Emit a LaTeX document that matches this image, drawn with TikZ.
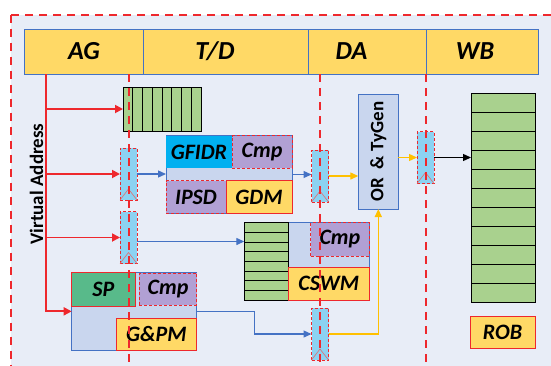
\documentclass[tikz,border=0pt]{standalone}
\usepackage{fontspec}
\setmainfont{Carlito}
\usetikzlibrary{positioning, arrows.meta}
\definecolor{bgblue}{RGB}{232,237,247}
\definecolor{hdrgold}{RGB}{255,217,102}
\definecolor{edgeblue}{RGB}{68,114,196}
\definecolor{grpfill}{RGB}{201,214,238}
\definecolor{stagered}{RGB}{238,40,45}
\definecolor{bufgreen}{RGB}{169,209,142}
\definecolor{latchcyan}{RGB}{140,210,242}
\definecolor{gfcyan}{RGB}{0,176,240}
\definecolor{cmppurple}{RGB}{177,160,212}
\definecolor{spgreen}{RGB}{88,186,138}
\definecolor{arrowgold}{RGB}{255,192,0}
\definecolor{clkred}{RGB}{224,110,110}

\begin{document}
\begin{tikzpicture}[x=1pt, y=-1pt,
  hdr/.style={draw=edgeblue, line width=0.9pt, fill=hdrgold, outer sep=0pt, minimum height=45pt, font=\fontsize{26}{26}\selectfont\bfseries\itshape},
  part/.style={anchor=north west, outer sep=0pt, inner sep=0pt, font=\fontsize{22}{22}\selectfont\bfseries\itshape},
  grp/.style={part, draw=edgeblue, line width=0.9pt, fill=grpfill},
  gold/.style={part, draw=stagered, line width=1pt, fill=hdrgold},
  cmp/.style={part, draw=stagered, densely dashed, line width=1pt, fill=cmppurple},
  buf/.style={part, draw=black, line width=1pt, fill=bufgreen},
  latch/.style={part, draw=stagered, densely dashed, line width=1pt, fill=latchcyan, minimum width=17pt, minimum height=52pt},
  stage/.style={stagered, line width=2pt, dash pattern=on 8pt off 6pt},
  va/.style={stagered, line width=1.8pt, -{Triangle[length=8pt, width=8pt]}},
  blu/.style={edgeblue, line width=1.3pt, -{Triangle[length=8pt, width=7pt]}},
  ylw/.style={arrowgold, line width=1.3pt, -{Triangle[length=8pt, width=7pt]}},
  blk/.style={black, line width=1.3pt, -{Triangle[length=8pt, width=7pt]}},
  clk/.style={clkred, line width=0.6pt}
]
  \useasboundingbox (0,0) rectangle (551,365);
  \clip (0,0) rectangle (551,365);
  \draw[stage, fill=bgblue] (10.5,14.5) rectangle (570,390);

  % pipeline stages
  \node[hdr, anchor=north west, minimum width=119pt] (ag) at (24.5,29) {AG};
  \node[hdr, minimum width=165pt, right=0pt of ag] (td) {T/D\hspace*{22pt}};
  \node[hdr, minimum width=118pt, right=0pt of td] (da) {DA\hspace*{32pt}};
  \node[hdr, minimum width=112pt, right=0pt of da] (wb) {WB\hspace*{15pt}};

  % queue at AG
  \node[buf, minimum width=78pt, minimum height=44pt] (agbuf) at (123,87) {};
  \foreach \i in {1,...,7}
    \draw[line width=0.7pt] ([xshift=\i*9.75pt]agbuf.north west) -- ([xshift=\i*9.75pt]agbuf.south west);

  % latches
  \node[latch] (l1) at (120,148) {};
  \node[latch] (l2) at (120,211.5) {};
  \node[latch] (l3) at (311.5,150) {};
  \node[latch] (l4) at (417,131.5) {};
  \node[latch] (l5) at (311.5,308) {};

  % T/D blocks
  \node[grp, minimum width=126pt, minimum height=77.6pt] (gfgrp) at (166,135.7) {};
  \node[part, fill=gfcyan, minimum width=66pt, minimum height=32.6pt] (gfidr) at (166,135.7) {GFIDR};
  \node[cmp, minimum width=60pt, minimum height=32.6pt, right=0pt of gfidr] (cmpA) {Cmp};
  \node[cmp, minimum width=60pt, minimum height=32.6pt] (ipsd) at (166,180.7) {IPSD};
  \node[gold, minimum width=66pt, minimum height=32.6pt, right=0pt of ipsd] (gdm) {GDM};

  \node[grp, minimum width=124.7pt, minimum height=77.3pt] (cswgrp) at (244.3,222.7) {};
  \node[buf, minimum width=44pt, minimum height=77.3pt] (cswq) at (244.3,222.7) {};
  \foreach \i in {1,...,7}
    \draw[line width=0.8pt] ([yshift=-\i*9.66pt]cswq.north west) -- ([yshift=-\i*9.66pt]cswq.north east);
  \node[cmp, minimum width=58.3pt, minimum height=33.3pt] (cmpC) at (310.7,222.7) {Cmp};
  \node[gold, minimum width=80.7pt, minimum height=32.3pt] (cswm) at (288.3,267.7) {CSWM};

  \node[grp, minimum width=125pt, minimum height=77.3pt] (spgrp) at (71.7,272.7) {};
  \node[part, draw=stagered, line width=1pt, fill=spgreen, minimum width=63.3pt, minimum height=33.3pt] (sp) at (71.7,272.7) {SP};
  \node[cmp, minimum width=57.4pt, minimum height=31.7pt] (cmpS) at (139.3,273.3) {Cmp};
  \node[gold, minimum width=80.7pt, minimum height=31.7pt] (gpm) at (116,318.3) {G\&PM};

  % DA and WB
  \node[grp, minimum width=40pt, minimum height=115pt] (ortg) at (358.3,94) {};
  \node[rotate=90, font=\fontsize{19}{19}\selectfont\bfseries] (ortgtxt) at (ortg.center) {OR\ \ \& TyGen};
  \node[buf, minimum width=64.7pt, minimum height=209pt] (robq) at (471,93.3) {};
  \foreach \i in {1,...,10}
    \draw[line width=0.9pt] ([yshift=-\i*19pt]robq.north west) -- ([yshift=-\i*19pt]robq.north east);
  \node[gold, minimum width=65pt, minimum height=32.3pt] (rob) at (470,316) {ROB};

  \node[rotate=90, font=\fontsize{19}{19}\selectfont\bfseries] (vatxt) at (36.5,184) {Virtual Address};

  % connectors
  \coordinate (va) at (46,74);
  \draw[va] (va) |- (spgrp.west);
  \draw[va] (va |- agbuf.west) -- (agbuf.west);
  \draw[va] (va |- l1.west) -- (l1.west);
  \draw[va] (va |- l2.west) -- (l2.west);
  \draw[blu] (l1.east) -- (l1.east -| gfgrp.west);
  \draw[blu] (gfgrp.east) -- (gfgrp.east -| l3.west);
  \draw[ylw] (l3.east) -- (l3.east -| ortg.west);
  \draw[ylw] (l4.west -| ortg.east) -- (l4.west);
  \draw[blk] (l4.east) -- (l4.east -| robq.west);
  \draw[blu] ([yshift=-4pt]l2.east) -- ([yshift=-4pt]l2.east -| cswq.west);
  \draw[blu] (spgrp.east) -- ++(58,0) |- (l5.west);
  \draw[ylw] (l5.east) -| (ortg.south);

  \foreach \lt in {l1,l2,l3,l4,l5}
    \draw[clk] (\lt.south west) -- ([yshift=11pt]\lt.south) -- (\lt.south east);

  \foreach \x in {128.5,320,425.5}
    \draw[stage] (\x,74) -- (\x,370);
\end{tikzpicture}
\end{document}
